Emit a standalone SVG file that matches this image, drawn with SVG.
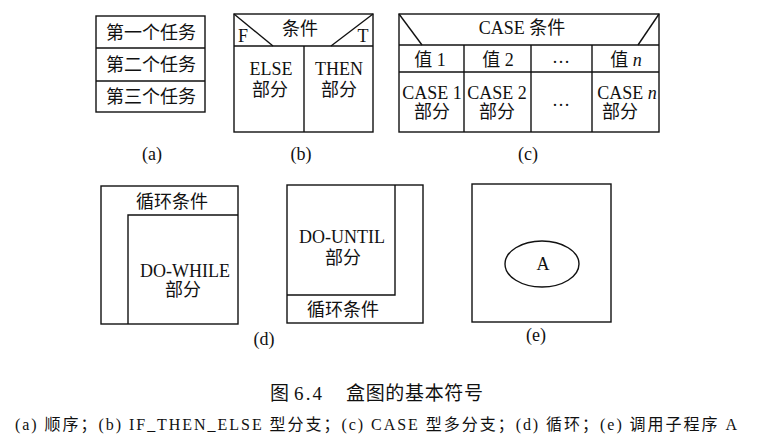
<svg xmlns="http://www.w3.org/2000/svg" width="760" height="448" viewBox="0 0 760 448">
  <style>
    .box { fill: none; stroke: #111; stroke-width: 1.4; }
    .ln { stroke: #111; stroke-width: 1.4; fill: none; }
    text { fill: #111; text-anchor: middle; }
    .zh { font-family: "Liberation Serif", "Noto Sans CJK SC", serif; font-size: 18px; }
    .lat { font-family: "Liberation Serif", "Noto Sans CJK SC", serif; font-size: 18px; }
    .lbl { font-family: "Liberation Serif", "Noto Sans CJK SC", serif; font-size: 18px; }
    .cap { font-family: "Liberation Serif", "Noto Sans CJK SC", serif; text-anchor: start; }
  </style>
  <rect width="760" height="448" fill="#fff"/>

  <!-- (a) sequence -->
  <g id="seq">
    <rect class="box" x="96" y="16" width="109" height="96"/>
    <line class="ln" x1="96" y1="48" x2="205" y2="48"/>
    <line class="ln" x1="96" y1="81" x2="205" y2="81"/>
    <text class="zh" x="151" y="39">第一个任务</text>
    <text class="zh" x="151" y="71">第二个任务</text>
    <text class="zh" x="151" y="103">第三个任务</text>
    <text class="lbl" x="152" y="160">(a)</text>
  </g>

  <!-- (b) IF_THEN_ELSE -->
  <g id="ifthen">
    <rect class="box" x="234" y="14" width="139" height="118"/>
    <line class="ln" x1="234" y1="46" x2="373" y2="46"/>
    <line class="ln" x1="234" y1="14" x2="273" y2="46"/>
    <line class="ln" x1="373" y1="14" x2="331" y2="46"/>
    <line class="ln" x1="304" y1="46" x2="304" y2="132"/>
    <text class="zh" x="300" y="35">条件</text>
    <text class="lbl" x="243" y="42">F</text>
    <text class="lbl" x="363" y="42">T</text>
    <text class="lat" x="271" y="75">ELSE</text>
    <text class="zh" x="270" y="96">部分</text>
    <text class="lat" x="339" y="75">THEN</text>
    <text class="zh" x="339" y="96">部分</text>
    <text class="lbl" x="301" y="160">(b)</text>
  </g>

  <!-- (c) CASE -->
  <g id="case">
    <rect class="box" x="399" y="14" width="260" height="118"/>
    <line class="ln" x1="399" y1="45" x2="659" y2="45"/>
    <line class="ln" x1="399" y1="72" x2="659" y2="72"/>
    <line class="ln" x1="399" y1="14" x2="422" y2="45"/>
    <line class="ln" x1="659" y1="14" x2="638" y2="45"/>
    <line class="ln" x1="464" y1="45" x2="464" y2="132"/>
    <line class="ln" x1="531" y1="45" x2="531" y2="132"/>
    <line class="ln" x1="592" y1="45" x2="592" y2="132"/>
    <text class="zh" x="522" y="34">CASE 条件</text>
    <text class="zh" x="430" y="66">值 1</text>
    <text class="zh" x="498" y="66">值 2</text>
    <text class="lat" x="561" y="63">…</text>
    <text class="zh" x="626" y="66">值 <tspan font-style="italic">n</tspan></text>
    <text class="lat" x="432" y="99">CASE 1</text>
    <text class="zh" x="432" y="118">部分</text>
    <text class="lat" x="497" y="99">CASE 2</text>
    <text class="zh" x="497" y="118">部分</text>
    <text class="lat" x="561" y="106">…</text>
    <text class="lat" x="627" y="99">CASE <tspan font-style="italic">n</tspan></text>
    <text class="zh" x="620" y="118">部分</text>
    <text class="lbl" x="528" y="160">(c)</text>
  </g>

  <!-- (d) loops -->
  <g id="dowhile">
    <rect class="box" x="101" y="186" width="137" height="138"/>
    <polyline class="ln" points="128,324 128,215 238,215"/>
    <text class="zh" x="172" y="208">循环条件</text>
    <text class="lat" x="185" y="277">DO-WHILE</text>
    <text class="zh" x="183" y="296">部分</text>
  </g>
  <g id="dountil">
    <rect class="box" x="287" y="185" width="136" height="138"/>
    <polyline class="ln" points="395,185 395,295 287,295"/>
    <text class="lat" x="342" y="243">DO-UNTIL</text>
    <text class="zh" x="343" y="264">部分</text>
    <text class="zh" x="343" y="316">循环条件</text>
  </g>
  <text class="lbl" x="264" y="345">(d)</text>

  <!-- (e) subroutine call -->
  <g id="call">
    <rect class="box" x="472" y="184" width="139" height="138"/>
    <ellipse class="ln" cx="542" cy="264" rx="37" ry="23"/>
    <text class="lbl" x="543" y="270">A</text>
    <text class="lbl" x="536" y="341">(e)</text>
  </g>

  <!-- caption -->
  <g id="caption">
    <text class="cap" y="400" font-size="19"><tspan x="270">图</tspan><tspan x="294" textLength="28" lengthAdjust="spacing">6.4</tspan><tspan x="346" textLength="137" lengthAdjust="spacing">盒图的基本符号</tspan></text>
    <text class="cap" x="15" y="430" font-size="16" textLength="722" lengthAdjust="spacing">(a) 顺序；(b) IF_THEN_ELSE 型分支；(c) CASE 型多分支；(d) 循环；(e) 调用子程序 A</text>
  </g>
</svg>
